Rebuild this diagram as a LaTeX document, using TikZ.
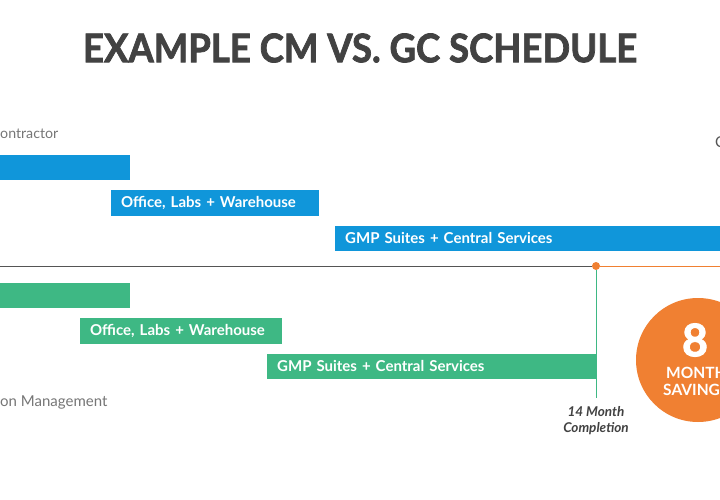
\documentclass[tikz,border=0pt]{standalone}
\usepackage{fontspec}
\setmainfont{Lato}
\newfontfamily\heavyfont{Lato Bold}[FakeBold=2]
\definecolor{cmblue}{RGB}{16,150,218}
\definecolor{cmgreen}{RGB}{62,184,132}
\definecolor{cmorange}{RGB}{240,128,50}
\definecolor{titlegray}{RGB}{66,66,66}
\definecolor{labelgray}{RGB}{118,118,118}
\definecolor{linegray}{RGB}{85,85,85}
\tikzset{
  barbox/.style={anchor=north west, inner xsep=10pt, inner ysep=0pt, minimum height=25.5pt,
    text=white, align=left, font=\bfseries\fontsize{15}{15}\selectfont},
  bluebar/.style={barbox, fill=cmblue},
  greenbar/.style={barbox, fill=cmgreen},
  sidelabel/.style={anchor=west, inner sep=0pt, text=labelgray, font=\fontsize{15}{15}\selectfont},
}
\begin{document}
\begin{tikzpicture}[x=1pt,y=-1pt]
\useasboundingbox (0,0) rectangle (720,500);
\clip (0,0) rectangle (720,500);
\fill[white] (0,0) rectangle (720,500);
% title
\node[text=titlegray, font=\heavyfont\fontsize{36.5}{36.5}\selectfont, inner sep=0pt, yscale=1.08] (title) at (360,48) {EXAMPLE CM VS. GC SCHEDULE};
% labels
\node[sidelabel, font=\fontsize{14.2}{14.2}\selectfont] (gclabel) at (0,134) {ontractor};
\node[sidelabel] (cmlabel) at (0,402) {on Management};
\node[sidelabel, text=linegray, anchor=west] (clabel) at (715,142) {C};
% blue bars
\node[bluebar, minimum width=130pt, text width=110pt] (b1) at (0,154.5) {};
\node[bluebar, minimum width=208pt, text width=188pt] (b2) at (111,190) {Office, Labs + Warehouse};
\node[bluebar, minimum width=400pt, text width=380pt] (b3) at (335,225.5) {GMP Suites + Central Services};
% green bars
\node[greenbar, minimum width=130pt, text width=110pt] (g1) at (0,282.5) {};
\node[greenbar, minimum width=202pt, text width=182pt] (g2) at (80,318) {Office, Labs + Warehouse};
\node[greenbar, minimum width=329pt, text width=309pt] (g3) at (267,353.5) {GMP Suites + Central Services};
% timeline
\coordinate (l0) at (0,266);
\coordinate (lend) at (722,266);
\coordinate (vb) at (596,398);
\node[circle, fill=cmorange, inner sep=0pt, minimum size=8pt] (dot) at (596,266) {};
\draw[linegray, line width=1pt] (l0) -- (dot.west);
\draw[cmorange, line width=1pt] (dot.east) -- (lend);
\draw[cmgreen, line width=1pt] (dot.south) -- (vb);
% completion label
\node[text=titlegray, font=\bfseries\itshape\fontsize{13.5}{16}\selectfont, align=center, inner sep=0pt] (comp) at (596,421) {14 Month\\Completion};
% savings circle
\node[circle, fill=cmorange, inner sep=0pt, minimum size=124pt] (sav) at (698,360) {};
\node[text=white, font=\heavyfont\fontsize{45}{45}\selectfont, inner sep=0pt] (eight) at (695,340) {8};
\node[text=white, font=\bfseries\fontsize{15.5}{15.5}\selectfont, anchor=west, inner sep=0pt] (month) at (666,373) {MONTH};
\node[text=white, font=\bfseries\fontsize{15.5}{15.5}\selectfont, anchor=west, inner sep=0pt] (saving) at (663,390) {SAVING};
\end{tikzpicture}
\end{document}
